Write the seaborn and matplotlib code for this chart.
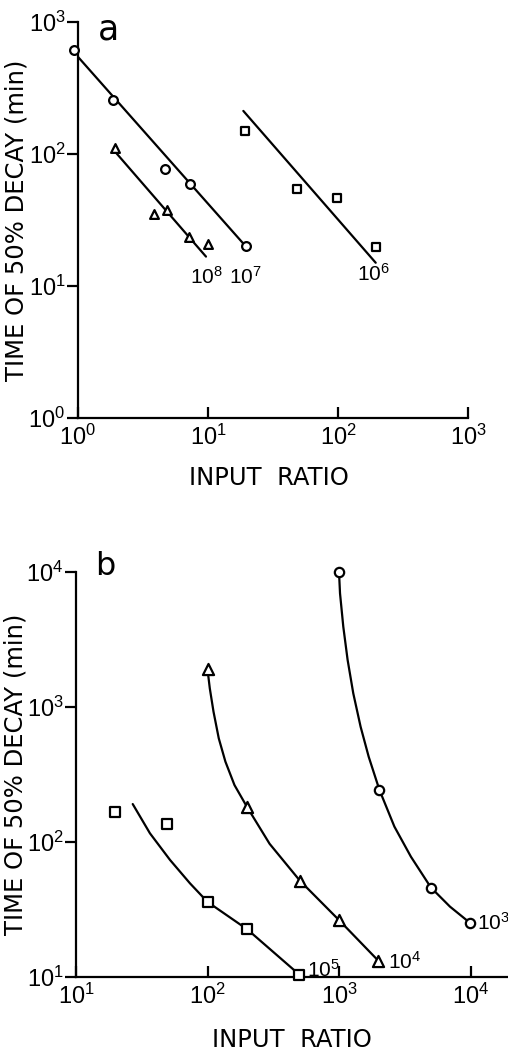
import matplotlib
matplotlib.use('Agg')
import matplotlib.pyplot as plt
from matplotlib import font_manager
import seaborn as sns

# ---- panel a ----
a_circle_x = [0.93, 1.87, 4.7, 7.3, 19.5]
a_circle_y = [614, 256, 77, 59, 20]
a_tri_x = [1.93, 3.84, 4.86, 7.2, 10.0]
a_tri_y = [111, 35, 37.7, 23.7, 20.8]
a_sq_x = [19.3, 48, 99, 195]
a_sq_y = [150, 54.6, 46.7, 19.7]

# fitted straight lines as drawn (end points)
a_circle_line_x = [0.93, 19.5]
a_circle_line_y = [590, 20]
a_tri_line_x = [1.93, 9.65]
a_tri_line_y = [104, 16.7]
a_sq_line_x = [18.7, 195]
a_sq_line_y = [212, 15]

# curve labels
a_labels = ['$10^{8}$', '$10^{7}$', '$10^{6}$']
a_label_x = [9.8, 19.3, 186]
a_label_y = [11.7, 11.7, 12.3]

# ---- panel b ----
b_circle_x = [1000, 2030, 5000, 9900]
b_circle_y = [10000, 243, 46, 25.2]
b_tri_x = [100, 199, 505, 1000, 1990]
b_tri_y = [1900, 183, 51.6, 26.4, 13.2]
b_sq_x = [19.8, 49.4, 100, 201, 500]
b_sq_y = [167, 136, 36, 22.5, 10.4]

# hand drawn curves
b_circle_curve_x = [1000, 1018, 1078, 1163, 1284, 1460, 1682, 2030, 2638, 3523,
                    5000, 6982, 9900]
b_circle_curve_y = [10000, 6950, 3936, 2230, 1262, 714, 428, 243, 130, 77.8,
                    46, 33.2, 25.2]
b_tri_curve_x = [100, 104.1, 111.1, 121.8, 136.8, 160.4, 199, 296.6, 505,
                 1000, 1990]
b_tri_curve_y = [1900, 1375, 923, 586, 394, 264, 183, 97, 51.6,
                 26.4, 13.2]
b_sq_curve_x = [27, 36.5, 51.9, 73.6, 100, 201, 500]
b_sq_curve_y = [191, 116, 73.6, 49.4, 36, 22.5, 10.4]

b_labels = ['$10^{3}$', '$10^{4}$', '$10^{5}$']
b_label_x = [11200, 2370, 568]
b_label_y = [25, 13, 11.3]

sns.set_style('ticks')
plt.rcParams['font.family'] = ['DejaVu Sans']
installed = {f.name for f in font_manager.fontManager.ttflist}
num_font = 'Liberation Sans Narrow' if 'Liberation Sans Narrow' in installed else 'Liberation Sans'
plt.rcParams['mathtext.fontset'] = 'custom'
plt.rcParams['mathtext.rm'] = num_font
plt.rcParams['mathtext.default'] = 'rm'
for k in ['text.color', 'axes.labelcolor', 'xtick.color', 'ytick.color',
          'axes.edgecolor']:
    plt.rcParams[k] = 'black'

LW = 1.6
TICK_FS = 17
NOTE_FS = 15
LABEL_FS = 17.5

fig = plt.figure(figsize=(5.08, 10.51), dpi=100)
ax_a = fig.add_axes([78 / 508, 1 - 418 / 1051, 390 / 508, 396 / 1051])
ax_b = fig.add_axes([76 / 508, 1 - 977 / 1051, 432 / 508, 405 / 1051])


def draw_line(ax, x, y):
    sns.lineplot(x=x, y=y, ax=ax, color='black', linewidth=LW, sort=False,
                 estimator=None, zorder=2)


def draw_pts(ax, x, y, marker, size):
    sns.scatterplot(x=x, y=y, ax=ax, marker=marker, s=size, color='white',
                    edgecolor='black', linewidth=LW, zorder=3, clip_on=False)


def style_axes(ax, xexp, yexp, xlim, ylim):
    ax.set_xscale('log')
    ax.set_yscale('log')
    ax.set_xlim(*xlim)
    ax.set_ylim(*ylim)
    ax.set_xticks([10.0 ** e for e in xexp])
    ax.set_xticklabels(['$10^{%d}$' % e for e in xexp])
    ax.set_yticks([10.0 ** e for e in yexp])
    ax.set_yticklabels(['$10^{%d}$' % e for e in yexp])
    ax.minorticks_off()
    ax.tick_params(axis='x', direction='in', length=8, width=LW, pad=5,
                   labelsize=TICK_FS)
    ax.tick_params(axis='y', direction='out', length=8, width=LW, pad=1,
                   labelsize=TICK_FS)
    for s in ['top', 'right']:
        ax.spines[s].set_visible(False)
    for s in ['left', 'bottom']:
        ax.spines[s].set_linewidth(LW)
    ax.set_xlabel('INPUT  RATIO', fontsize=LABEL_FS)
    ax.set_ylabel('TIME OF 50% DECAY (min)', fontsize=LABEL_FS)
    ax.xaxis.label.set_va('center')
    ax.yaxis.label.set_va('center')


# panel a
style_axes(ax_a, [0, 1, 2, 3], [0, 1, 2, 3], (1, 1000), (1, 1000))
draw_line(ax_a, a_circle_line_x, a_circle_line_y)
draw_line(ax_a, a_tri_line_x, a_tri_line_y)
draw_line(ax_a, a_sq_line_x, a_sq_line_y)
draw_pts(ax_a, a_circle_x, a_circle_y, 'o', 40)
draw_pts(ax_a, a_tri_x, a_tri_y, '^', 40)
draw_pts(ax_a, a_sq_x, a_sq_y, 's', 33)
for t, x, y in zip(a_labels, a_label_x, a_label_y):
    ax_a.text(x, y, t, fontsize=NOTE_FS, ha='center', va='center')
ax_a.text(0.078, 0.982, 'a', transform=ax_a.transAxes, fontsize=25,
          ha='center', va='center')
ax_a.xaxis.set_label_coords(0.49, -0.152)
ax_a.yaxis.set_label_coords(-0.158, 0.5)

# panel b
style_axes(ax_b, [1, 2, 3, 4], [1, 2, 3, 4],
           (10, 10 ** (1 + 432 / 131.5)), (10, 10000))
draw_line(ax_b, b_circle_curve_x, b_circle_curve_y)
draw_line(ax_b, b_tri_curve_x, b_tri_curve_y)
draw_line(ax_b, b_sq_curve_x, b_sq_curve_y)
draw_pts(ax_b, b_circle_x, b_circle_y, 'o', 45)
draw_pts(ax_b, b_tri_x, b_tri_y, '^', 64)
draw_pts(ax_b, b_sq_x, b_sq_y, 's', 47)
for t, x, y in zip(b_labels, b_label_x, b_label_y):
    ax_b.text(x, y, t, fontsize=NOTE_FS, ha='left', va='center')
ax_b.text(0.067, 1.013, 'b', transform=ax_b.transAxes, fontsize=23,
          ha='center', va='center')
ax_b.xaxis.set_label_coords(0.5, -0.156)
ax_b.yaxis.set_label_coords(-0.139, 0.5)

fig.savefig('out.png', dpi=100)
